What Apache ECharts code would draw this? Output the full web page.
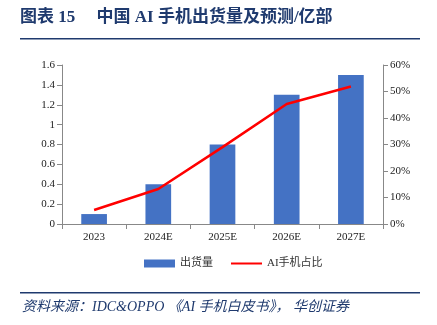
<!DOCTYPE html>
<html><head><meta charset="utf-8">
<script src="https://cdn.jsdelivr.net/npm/echarts@6/dist/echarts.min.js"></script>
<style>html,body{margin:0;padding:0;background:#fff}#c{width:437px;height:325px}</style>
</head><body><div id="c"></div>
<script>
var categories = ['2023', '2024E', '2025E', '2026E', '2027E'];
var shipments = [0.1, 0.4, 0.8, 1.3, 1.5];
var aiShare = [5.3, 13.2, 29, 45.3, 51.9];
var leftTicks = {min: 0, max: 1.6, interval: 0.2};
var rightTicks = {min: 0, max: 60, interval: 10};

var serif = '"Liberation Serif","Times New Roman","Noto Sans CJK SC",serif';
var titleColor = '#1f3a6e';
var chart = echarts.init(document.getElementById('c'));
chart.setOption({
  animation: false,
  textStyle: {fontFamily: serif},
  grid: {left: 62, right: 54, top: 65, bottom: 101, containLabel: false},
  graphic: [
    {type: 'text', left: 20, top: 9, style: {text: '图表 15　 中国 AI 手机出货量及预测/亿部', font: 'bold 17px ' + serif, fill: titleColor}},
    {type: 'rect', shape: {x: 20, y: 38, width: 400, height: 1.5}, style: {fill: titleColor}},
    {type: 'rect', shape: {x: 20, y: 292, width: 400, height: 1.5}, style: {fill: titleColor}},
    {type: 'text', left: 22, top: 300, style: {text: '资料来源：IDC&OPPO 《AI 手机白皮书》， 华创证券', font: 'italic 14px ' + serif, fill: titleColor}}
  ],
  legend: {
    bottom: 51, left: 139, itemGap: 17, itemWidth: 31, itemHeight: 8,
    textStyle: {fontSize: 11, color: '#333', fontFamily: serif},
    data: [{name: '出货量', icon: 'rect'}, {name: 'AI手机占比', itemStyle: {opacity: 0}}]
  },
  xAxis: {
    type: 'category', data: categories,
    axisLine: {lineStyle: {color: '#888'}},
    axisTick: {show: true, alignWithLabel: false, lineStyle: {color: '#888'}},
    axisLabel: {color: '#222', fontSize: 11, margin: 8}
  },
  yAxis: [
    {type: 'value', min: leftTicks.min, max: leftTicks.max, interval: leftTicks.interval,
     axisLine: {show: true, lineStyle: {color: '#888'}},
     axisTick: {show: true, lineStyle: {color: '#888'}},
     splitLine: {show: false},
     axisLabel: {color: '#222', fontSize: 11, margin: 7, formatter: function(v){return String(Math.round(v*10)/10);}}},
    {type: 'value', min: rightTicks.min, max: rightTicks.max, interval: rightTicks.interval, position: 'right',
     axisLine: {show: true, lineStyle: {color: '#888'}},
     axisTick: {show: true, lineStyle: {color: '#888'}},
     splitLine: {show: false},
     axisLabel: {color: '#222', fontSize: 11, margin: 7, formatter: '{value}%'}}
  ],
  series: [
    {name: '出货量', type: 'bar', data: shipments, barWidth: '40%', itemStyle: {color: '#4472c4'}},
    {name: 'AI手机占比', type: 'line', yAxisIndex: 1, data: aiShare, symbol: 'none',
     lineStyle: {color: '#ff0000', width: 2.5}, itemStyle: {color: '#ff0000'}}
  ]
});
</script></body></html>
